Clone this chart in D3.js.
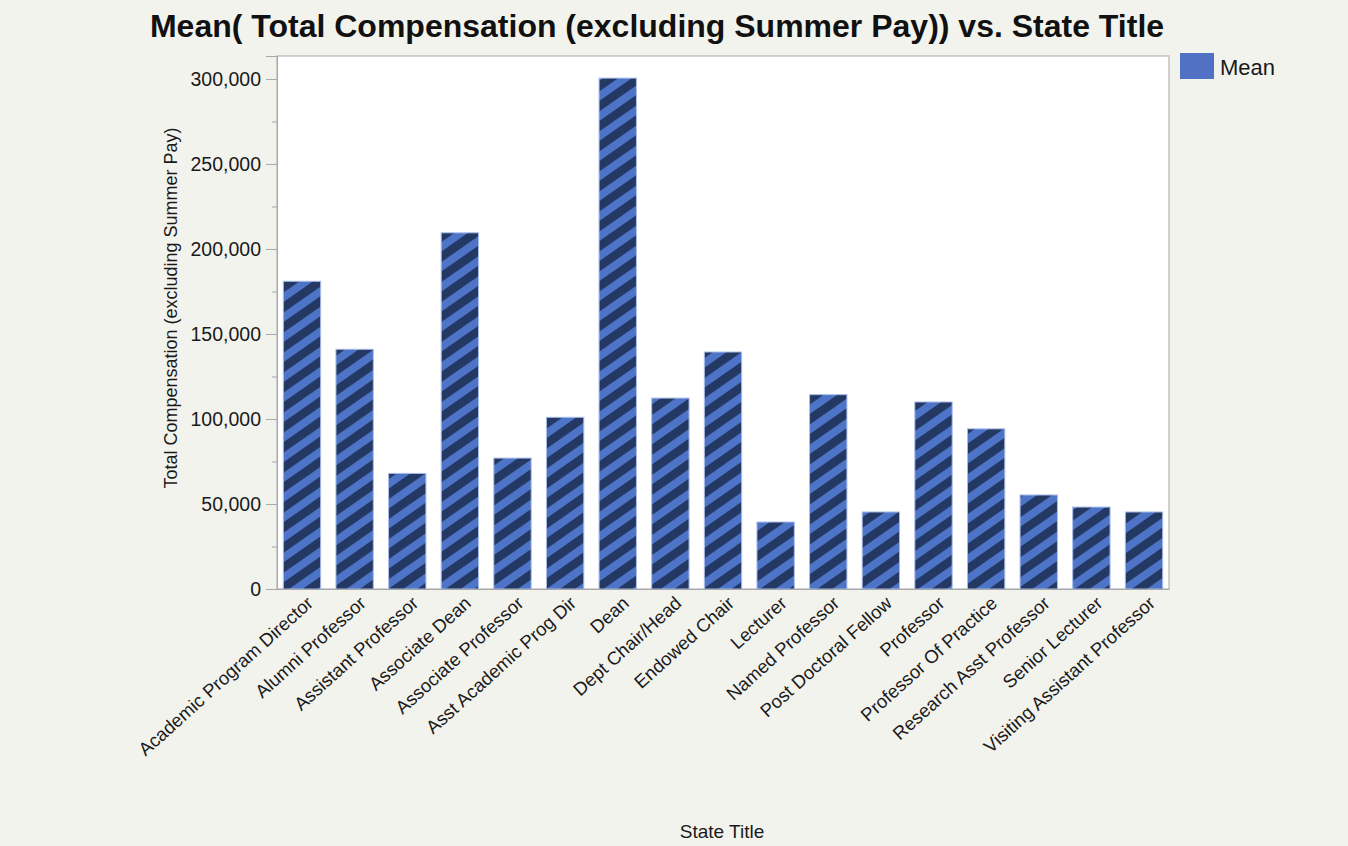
<!DOCTYPE html>
<html><head><meta charset="utf-8">
<script src="https://cdn.jsdelivr.net/npm/d3@7"></script>
<style>
body{margin:0;background:#f3f3ee;}
svg{display:block;font-family:"Liberation Sans",Arial,Helvetica,sans-serif;}
</style></head>
<body>
<script>
const categories = ["Academic Program Director","Alumni Professor","Assistant Professor","Associate Dean","Associate Professor","Asst Academic Prog Dir","Dean","Dept Chair/Head","Endowed Chair","Lecturer","Named Professor","Post Doctoral Fellow","Professor","Professor Of Practice","Research Asst Professor","Senior Lecturer","Visiting Assistant Professor"];
const meanValues = [181000,141000,68000,209500,77000,101000,300500,112300,139400,39400,114300,45300,110000,94200,55300,48200,45300];
const yTicks = [0,50000,100000,150000,200000,250000,300000];
const yMinorTicks = [25000,75000,125000,175000,225000,275000];
const titleText = "Mean( Total Compensation (excluding Summer Pay)) vs. State Title";
const yLabel = "Total Compensation (excluding Summer Pay)";
const xLabel = "State Title";
const legendLabel = "Mean";

const W=1348,H=846;
const m={left:277,top:56,right:1169,bottom:589};
const svg=d3.select("body").append("svg").attr("width",W).attr("height",H);
svg.append("rect").attr("width",W).attr("height",H).attr("fill","#f3f3ee");

const defs=svg.append("defs");
const pat=defs.append("pattern").attr("id","stripes").attr("patternUnits","userSpaceOnUse")
  .attr("width",36).attr("height",16.4).attr("patternTransform","rotate(-35)");
pat.append("rect").attr("width",36).attr("height",16.4).attr("fill","#4e74c8");
pat.append("rect").attr("width",36).attr("height",8.6).attr("fill","#233863");

const x=d3.scaleBand().domain(categories).range([m.left,m.right]).paddingInner(0.29).paddingOuter(0.12);
const y=d3.scaleLinear().domain([0,313500]).range([m.bottom,m.top]);

// plot background
svg.append("rect").attr("x",m.left).attr("y",m.top).attr("width",m.right-m.left).attr("height",m.bottom-m.top)
  .attr("fill","#ffffff").attr("stroke","#b4b4b4").attr("stroke-width",1.2);

// bars
svg.append("g").selectAll("rect").data(categories).join("rect")
  .attr("x",d=>x(d)).attr("width",x.bandwidth())
  .attr("y",(d,i)=>y(meanValues[i])).attr("height",(d,i)=>y(0)-y(meanValues[i]))
  .attr("fill","url(#stripes)").attr("stroke","#a9bdea").attr("stroke-width",1);

// y axis
const yAxis=d3.axisLeft(y).tickValues(yTicks).tickSize(11).tickPadding(5).tickFormat(d3.format(","));
const ga=svg.append("g").attr("transform",`translate(${m.left},0)`).call(yAxis);
ga.select(".domain").attr("stroke","#a8a8a8");
ga.selectAll(".tick line").attr("stroke","#a8a8a8");
ga.selectAll(".tick text").attr("font-size",19.5).attr("fill","#1a1a1a");
const gm=svg.append("g").attr("transform",`translate(${m.left},0)`)
  .call(d3.axisLeft(y).tickValues(yMinorTicks).tickSize(5).tickFormat(""));
gm.select(".domain").remove();
gm.selectAll(".tick line").attr("stroke","#a8a8a8");

// x labels
const gx=svg.append("g").attr("transform",`translate(0,${m.bottom})`)
  .call(d3.axisBottom(x).tickSize(0).tickPadding(0));
gx.select(".domain").attr("stroke","#a8a8a8");
gx.selectAll(".tick text").attr("font-size",18.5).attr("fill","#1a1a1a")
  .attr("text-anchor","end").attr("transform","translate(8,11) rotate(-42)").attr("dy","0.35em").attr("y",0);

// title
svg.append("text").attr("x",657).attr("y",37).attr("text-anchor","middle")
  .attr("font-size",32).attr("font-weight","bold").attr("fill","#111").text(titleText);
// y label
svg.append("text").attr("transform",`translate(177,308) rotate(-90)`).attr("text-anchor","middle")
  .attr("font-size",18).attr("fill","#1a1a1a").text(yLabel);
// x label
svg.append("text").attr("x",722).attr("y",838).attr("text-anchor","middle").attr("font-size",19).attr("fill","#1a1a1a").text(xLabel);

// legend
svg.append("rect").attr("x",1180).attr("y",53).attr("width",34).attr("height",26).attr("fill","#5172c4");
svg.append("text").attr("x",1220).attr("y",75).attr("font-size",22).attr("fill","#1a1a1a").text(legendLabel);
</script>
</body></html>
